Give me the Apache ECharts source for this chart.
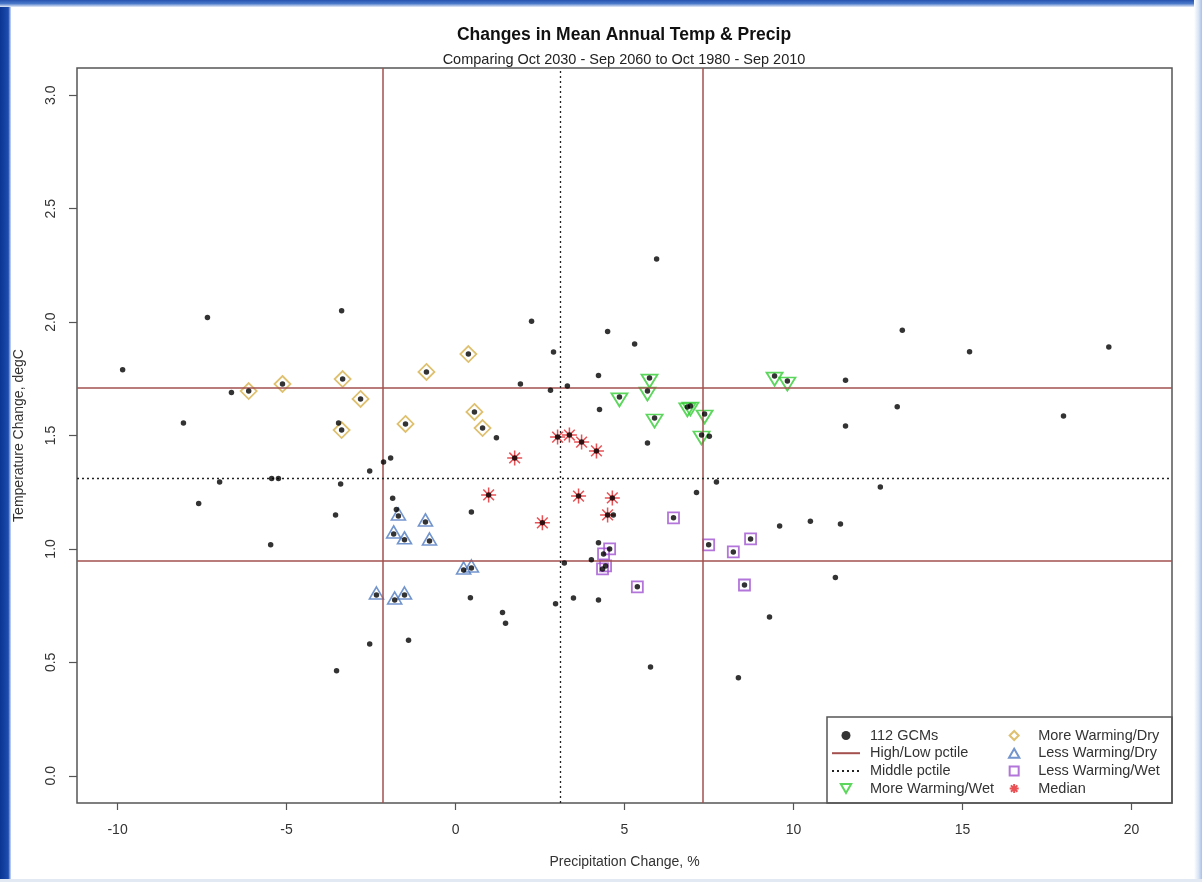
<!DOCTYPE html>
<html><head><meta charset="utf-8">
<script src="https://cdn.jsdelivr.net/npm/echarts@6/dist/echarts.min.js"></script>
<style>html,body{margin:0;padding:0;background:#fff}#c{width:1202px;height:882px}</style>
</head><body><div id="c"></div>
<script>
// ---- tick labels ----
const xTicks = [-10, -5, 0, 5, 10, 15, 20];
const yTicks = [0, 0.5, 1.0, 1.5, 2.0, 2.5, 3.0];

// ---- GCMs outside the highlighted groups ----
const otherX = [-9.85,-7.34,-8.05,-6.63,-7.60,-6.98,-5.44,-5.24,-5.47,-3.37,-3.46,-3.40,-3.55,-3.52,-2.54,-2.54,-2.13,-1.92,-1.86,-1.75,-1.39,1.21,0.47,0.44,1.39,1.48,2.25,1.92,2.90,2.81,3.31,2.96,3.22,3.49,5.95,4.50,5.30,4.23,4.26,5.68,4.23,4.02,4.23,5.77,4.67,7.13,7.72,7.51,9.29,8.37,9.59,10.50,11.39,11.24,11.54,11.54,12.57,13.22,13.07,15.21,17.99,19.33];
const otherY = [1.79,2.02,1.555,1.69,1.20,1.295,1.31,1.31,1.018,2.05,1.555,1.286,1.15,0.463,0.581,1.344,1.383,1.401,1.223,1.174,0.597,1.49,1.163,0.785,0.72,0.672,2.004,1.727,1.868,1.70,1.718,0.758,0.938,0.784,2.278,1.958,1.903,1.764,1.615,1.467,1.027,0.952,0.775,0.48,1.15,1.249,1.295,1.497,0.70,0.432,1.101,1.122,1.11,0.874,1.744,1.542,1.273,1.964,1.627,1.869,1.586,1.89];

// ---- highlighted groups ----
const moreDryX = [-6.12,-5.12,-3.34,-2.81,-3.37,-1.48,-0.86,0.38,0.56,0.80];
const moreDryY = [1.696,1.727,1.749,1.661,1.524,1.551,1.780,1.859,1.604,1.533];
const lessDryX = [-1.69,-0.89,-1.83,-1.51,-0.77,0.24,0.47,-2.34,-1.80,-1.51];
const lessDryY = [1.145,1.119,1.066,1.040,1.035,0.907,0.916,0.797,0.775,0.797];
const lessWetX = [6.45,4.38,4.56,7.49,8.22,8.73,4.35,4.44,5.38,8.55];
const lessWetY = [1.137,0.978,1.000,1.018,0.987,1.044,0.912,0.925,0.833,0.841];
const moreWetX = [5.74,5.68,4.85,6.86,6.95,5.89,7.37,7.28,9.44,9.82];
const moreWetY = [1.753,1.696,1.670,1.626,1.630,1.577,1.595,1.502,1.762,1.740];
const medianX = [3.02,3.37,3.73,4.17,1.75,0.98,3.64,4.64,4.50,2.57];
const medianY = [1.493,1.502,1.471,1.432,1.401,1.238,1.233,1.225,1.150,1.115];

// ---- percentiles ----
const pctileX = [-2.16, 7.31];
const pctileY = [0.947, 1.709];
const midX = [3.11];
const midY = [1.308];

const zip = (a, b) => a.map((v, i) => [v, b[i]]);
const allGCM = zip(otherX, otherY).concat(zip(moreDryX, moreDryY), zip(lessDryX, lessDryY),
  zip(lessWetX, lessWetY), zip(moreWetX, moreWetY), zip(medianX, medianY));

const FONT = "'Liberation Sans', Arial, sans-serif";
const LINE = '#A3504E';
const GOLD = '#D6B04A', BLUE = '#4F7BC0', PURPLE = '#A052CF', GREEN = '#33CC33', RED = '#E3262A';
const CLEAR = 'rgba(0,0,0,0)';
const STAR = 'path://M8,0L8,16M0,8L16,8M2.3,2.3L13.7,13.7M2.3,13.7L13.7,2.3';
const ICON_UP = 'path://M5,0L10,8.7L0,8.7Z';
const ICON_DOWN = 'path://M0,0L10,0L5,8.7Z';
const ICON_DIAMOND = 'path://M5,0L10,5L5,10L0,5Z';
const ICON_SQUARE = 'path://M0,0L10,0L10,10L0,10Z';
const NOSYM = {color: CLEAR, borderColor: CLEAR, borderWidth: 0, opacity: 0};

const chart = echarts.init(document.getElementById('c'), null, {renderer: 'canvas'});
const legendCommon = {
  orient: 'vertical', top: 723, itemWidth: 28, itemHeight: 9, itemGap: 2.7,
  selectedMode: false, symbolKeepAspect: true,
  textStyle: {fontFamily: FONT, fontSize: 14.5, color: '#333', lineHeight: 15, padding: [0, 0, 0, 5]}
};
chart.setOption({
  animation: false,
  backgroundColor: '#fff',
  title: {
    text: 'Changes in Mean Annual Temp & Precip',
    subtext: 'Comparing Oct 2030 - Sep 2060 to Oct 1980 - Sep 2010',
    left: 619, textAlign: 'center', top: 21, itemGap: 8,
    textStyle: {fontFamily: FONT, fontSize: 17.5, fontWeight: 'bold', color: '#111'},
    subtextStyle: {fontFamily: FONT, fontSize: 14.5, color: '#222'}
  },
  grid: {left: 77, right: 30, top: 68, bottom: 79, show: true, borderColor: '#555', borderWidth: 1.5, backgroundColor: '#fff'},
  xAxis: {
    type: 'value', min: -11.2, max: 21.2,
    name: 'Precipitation Change, %', nameLocation: 'middle', nameGap: 52,
    nameTextStyle: {fontFamily: FONT, fontSize: 14, color: '#333'},
    axisLine: {show: false, onZero: false}, splitLine: {show: false},
    axisTick: {show: true, length: 7, customValues: xTicks, lineStyle: {color: '#555', width: 1.2}},
    axisLabel: {customValues: xTicks, margin: 20, fontFamily: FONT, fontSize: 14, color: '#333',
      formatter: v => String(v)}
  },
  yAxis: {
    type: 'value', min: -0.12, max: 3.12,
    name: 'Temperature Change, degC', nameLocation: 'middle', nameGap: 51,
    nameTextStyle: {fontFamily: FONT, fontSize: 14, color: '#333'},
    axisLine: {show: false, onZero: false}, splitLine: {show: false},
    axisTick: {show: true, length: 8, customValues: yTicks, lineStyle: {color: '#555', width: 1.2}},
    axisLabel: {customValues: yTicks, rotate: 90, margin: 19, fontFamily: FONT, fontSize: 14, color: '#333',
      formatter: v => v.toFixed(1)}
  },
  legend: [
    Object.assign({left: 826, data: [
      {name: '112 GCMs'},
      {name: 'High/Low pctile', itemStyle: NOSYM},
      {name: 'Middle pctile', itemStyle: NOSYM},
      {name: 'More Warming/Wet', icon: ICON_DOWN}]}, legendCommon),
    Object.assign({left: 1003, data: [
      {name: 'More Warming/Dry', icon: ICON_DIAMOND},
      {name: 'Less Warming/Dry', icon: ICON_UP},
      {name: 'Less Warming/Wet', icon: ICON_SQUARE},
      {name: 'Median'}]}, legendCommon)
  ],
  graphic: [
    {type: 'rect', z: 100, silent: true, shape: {x: 827, y: 717, width: 345, height: 86},
      style: {fill: 'none', stroke: '#555', lineWidth: 1.5}},
    {type: 'rect', z: 100, silent: true, shape: {x: 0, y: 0, width: 11, height: 882},
      style: {fill: new echarts.graphic.LinearGradient(0, 0, 1, 0, [
        {offset: 0, color: '#0a3592'}, {offset: 0.75, color: '#1c4cb0'}, {offset: 1, color: '#d8e3f6'}])}},
    {type: 'rect', z: 100, silent: true, shape: {x: 0, y: 0, width: 1202, height: 7},
      style: {fill: new echarts.graphic.LinearGradient(0, 0, 0, 1, [
        {offset: 0, color: '#2652b0'}, {offset: 0.5, color: '#4a78c8'}, {offset: 1, color: '#e4ecf8'}])}},
    {type: 'rect', z: 100, silent: true, shape: {x: 1194, y: 0, width: 8, height: 882},
      style: {fill: new echarts.graphic.LinearGradient(0, 0, 1, 0, [
        {offset: 0, color: '#ffffff'}, {offset: 0.6, color: '#d6e2f4'}, {offset: 1, color: '#a9c0e6'}])}},
    {type: 'rect', z: 100, silent: true, shape: {x: 0, y: 879, width: 1202, height: 3},
      style: {fill: '#e3e9f2'}}
  ],
  series: [
    {name: 'High/Low pctile', type: 'line', data: [], symbol: 'none', lineStyle: {color: LINE, width: 1.5},
      itemStyle: {color: LINE},
      markLine: {silent: true, symbol: 'none', label: {show: false}, animation: false,
        lineStyle: {color: LINE, width: 1.5, type: 'solid'},
        data: pctileX.map(v => ({xAxis: v})).concat(pctileY.map(v => ({yAxis: v})))}},
    {name: 'Middle pctile', type: 'line', data: [], symbol: 'none', lineStyle: {color: '#222', width: 1.3, type: [2, 3]},
      itemStyle: {color: '#222'},
      markLine: {silent: true, symbol: 'none', label: {show: false}, animation: false,
        lineStyle: {color: '#222', width: 1.3, type: [2, 3]},
        data: midX.map(v => ({xAxis: v})).concat(midY.map(v => ({yAxis: v})))}},
    {name: 'More Warming/Wet', type: 'scatter', symbol: 'triangle', symbolRotate: 180, symbolSize: [16, 13],
      symbolOffset: [0, 3], itemStyle: {color: CLEAR, borderColor: GREEN, borderWidth: 1.8}, data: zip(moreWetX, moreWetY)},
    {name: 'More Warming/Dry', type: 'scatter', symbol: 'diamond', symbolSize: 16,
      itemStyle: {color: CLEAR, borderColor: GOLD, borderWidth: 1.8}, data: zip(moreDryX, moreDryY)},
    {name: 'Less Warming/Dry', type: 'scatter', symbol: 'triangle', symbolSize: [14, 12], symbolOffset: [0, -2],
      itemStyle: {color: CLEAR, borderColor: BLUE, borderWidth: 1.6}, data: zip(lessDryX, lessDryY)},
    {name: 'Less Warming/Wet', type: 'scatter', symbol: 'rect', symbolSize: 11,
      itemStyle: {color: CLEAR, borderColor: PURPLE, borderWidth: 1.8}, data: zip(lessWetX, lessWetY)},
    {name: 'Median', type: 'scatter', symbol: STAR, symbolSize: 15, symbolKeepAspect: true,
      itemStyle: {color: CLEAR, borderColor: RED, borderWidth: 1.5}, data: zip(medianX, medianY)},
    {name: '112 GCMs', type: 'scatter', symbol: 'circle', symbolSize: 5.5, z: 5,
      itemStyle: {color: '#000'}, data: allGCM}
  ]
});
</script></body></html>
